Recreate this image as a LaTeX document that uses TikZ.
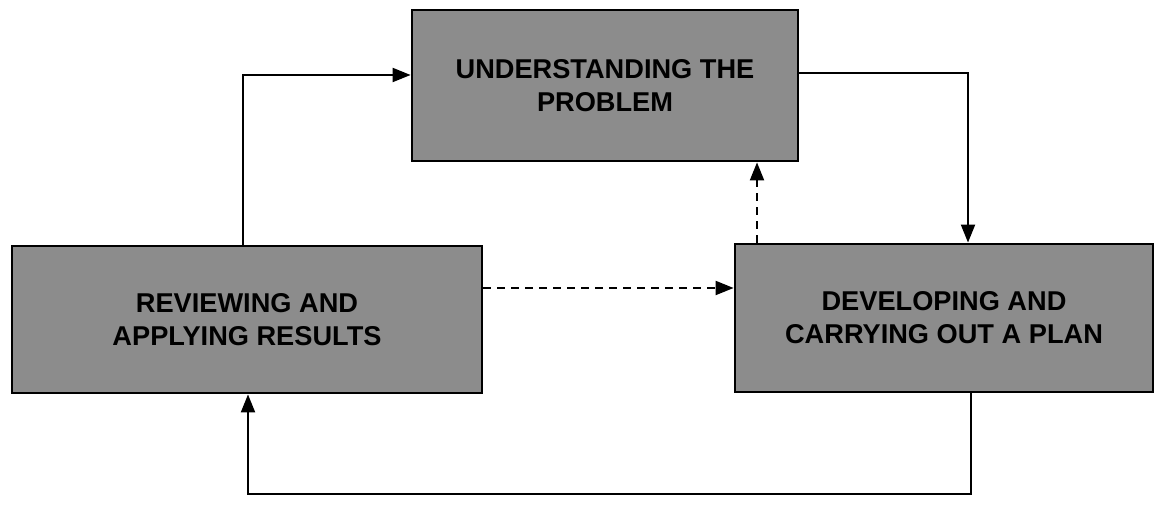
\documentclass[tikz,border=0pt]{standalone}
\usepackage{fontspec}
\setmainfont{Liberation Sans}
\usetikzlibrary{arrows.meta}

\begin{document}
\begin{tikzpicture}[x=0.5pt,y=-0.5pt,
	stage/.style={shape=rectangle,draw=black,line width=1.4pt,fill=black!45,align=center,inner sep=0pt,font=\fontsize{13.6}{16.5}\selectfont\bfseries},
	link/.style={line width=1pt,-{Triangle[length=9pt,width=7pt]}},
	back/.style={link,dash pattern=on 4pt off 3pt}]
	
	\useasboundingbox (0,0) rectangle (1155,522);
	
	\node[stage,minimum width=193pt,minimum height=75.5pt] (under)   at (605,85.5)  {UNDERSTANDING THE\\PROBLEM};
	\node[stage,minimum width=235pt,minimum height=73.5pt] (review)  at (247,319.5) {REVIEWING AND\\APPLYING RESULTS};
	\node[stage,minimum width=209pt,minimum height=74pt]   (develop) at (944,318)   {DEVELOPING AND\\CARRYING OUT A PLAN};
	
	\coordinate (ltop)   at (243,75);
	\coordinate (rtop)   at (968,73);
	\coordinate (mid)    at (757,200);
	\coordinate (across) at (600,288);
	\coordinate (rbot)   at (971,494);
	\coordinate (lbot)   at (248,494);
	
	\draw[link] (review.north -| ltop) -- (ltop) -- (under.west |- ltop);
	\draw[link] (under.east |- rtop) -- (rtop) -- (develop.north -| rtop);
	\draw[back] (develop.north -| mid) -- (under.south -| mid);
	\draw[back] (review.east |- across) -- (develop.west |- across);
	\draw[link] (develop.south -| rbot) -- (rbot) -- (lbot) -- (review.south -| lbot);
	
\end{tikzpicture}
\end{document}
